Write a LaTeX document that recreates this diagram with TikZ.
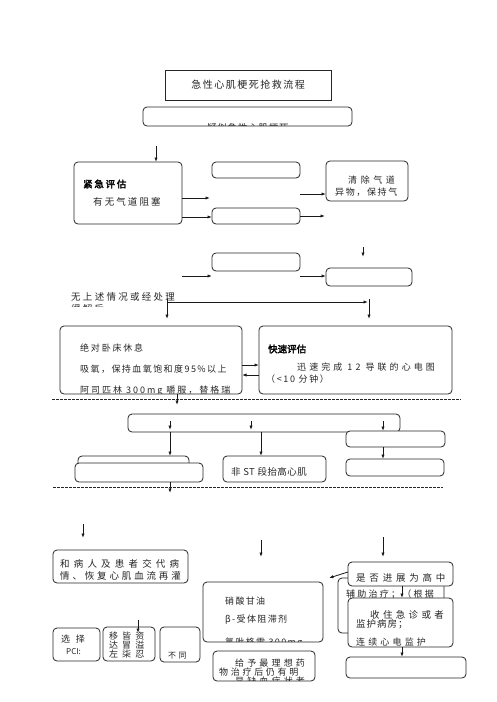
\documentclass[tikz,border=0pt]{standalone}
\usepackage{fontspec}
\newfontfamily\cjk{Noto Sans CJK SC}
\newfontfamily\cjkb[FakeBold=2.5]{Noto Sans CJK SC}
\usetikzlibrary{arrows.meta}
\newcommand{\lsp}[1]{\addfontfeature{LetterSpace=#1}}
\newcommand{\mybox}[6][]{\node[boxst,#1,anchor=north west,minimum width={(#5-#3)*1pt},minimum height={(#6-#4)*1pt}] (#2) at (#3,#4) {};}
\begin{document}
\begin{tikzpicture}[x=1pt,y=-1pt,
  boxst/.style={draw=black!85,line width=0.8pt,rounded corners=4pt,fill=white,inner sep=0pt,outer sep=0pt},
  tx/.style={font=\cjk\fontsize{9}{10}\selectfont,text=black!85,inner sep=0pt,anchor=west},
  tl/.style={font=\cjk\fontsize{9.5}{10}\selectfont,text=black!85,inner sep=0pt,anchor=west},
  bt/.style={font=\cjkb\fontsize{9.5}{10}\selectfont,text=black,inner sep=0pt,anchor=west},
  arr/.style={draw=black!90,line width=0.8pt,-{Latex[length=4.5pt,width=3.2pt]}},
  dsh/.style={draw=black!85,line width=0.8pt,dash pattern=on 2.5pt off 1.5pt}]
\useasboundingbox (0,0) rectangle (496,702);
\fill[white] (0,0) rectangle (496,702);

% --- title area
\mybox[rounded corners=0pt,line width=1pt]{title}{165}{70}{331}{100}
\node[tx,anchor=center,font=\cjk\fontsize{10}{11}\selectfont] (titlet) at (title.center) {\lsp{15}急性心肌梗死抢救流程};
\mybox{sub}{143}{107}{352}{126}
\begin{scope}
\clip (144,108) rectangle (351,125.3);
\node[tl,anchor=center] (subt) at (248,127.5) {\lsp{8}疑似急性心肌梗死};
\end{scope}

% --- emergency evaluation
\coordinate (c0) at (156,146);
\mybox{eval}{74}{162}{182}{224}
\draw[arr] (c0) -- (eval.north -| c0);
\node[bt] (evalt1) at (83,184) {\lsp{18}紧急评估};
\node[tl] (evalt2) at (93,202) {\lsp{22}有无气道阻塞};
\mybox{b1}{212}{162}{300}{178}
\mybox{b2}{212}{208}{300}{224}
\mybox{clear}{326}{161}{408}{201}
\node[tx] (cleart1) at (348,180) {\lsp{40}清除气道};
\node[tx] (cleart2) at (335,192) {\lsp{18}异物，保持气};
\coordinate (c1) at (210,198);
\draw[arr] (eval.east |- c1) -- (c1);
\draw[arr] (eval.east |- 0,217) -- (b2.west |- 0,217);
\coordinate (c2) at (300,194);
\draw[arr] (c2) -- (clear.west |- c2);
\coordinate (c3) at (325,216);
\draw[arr] (b2.east |- c3) -- (c3);

\coordinate (c4) at (363,247);
\coordinate (c5) at (363,257);
\draw[arr] (c4) -- (c5);
\mybox{b3}{212}{253}{300}{271}
\mybox{b4}{326}{268}{412}{286}
\coordinate (c6) at (182,276);
\coordinate (c7) at (212,276);
\draw[arr] (c6) -- (c7);
\draw[arr] (c7 -| b3.east) -- (c7 -| b4.west);

% --- no airway obstruction
\node[tl] (nost) at (71,297) {\lsp{24}无上述情况或经处理};
\begin{scope}
\clip (60,301.5) rectangle (120,306.5);
\node[tl] (nost2) at (71,309) {\lsp{22}缓解后};
\end{scope}
\coordinate (d1) at (167,299);
\coordinate (d2) at (369,299);
\draw[arr] (d1 |- 0,302) -- (368,302);
\draw[arr] (d1) -- (167,319);
\draw[arr] (d2) -- (369,319);

\mybox{rest}{60}{326}{242}{394}
\node[tx] (restt1) at (80,348) {\lsp{20}绝对卧床休息};
\node[tx] (restt2) at (80,369) {\lsp{16}吸氧，保持血氧饱和度95\%以上};
\begin{scope}
\clip (61,380) rectangle (241,393.2);
\node[tx] (restt3) at (80,391) {\lsp{22}阿司匹林 300mg 嚼服，替格瑞};
\end{scope}
\mybox{fast}{259}{326}{452}{394}
\node[bt] (fastt1) at (268,349) {快速评估};
\node[tx] (fastt2) at (297,367) {\lsp{34}迅速完成 12 导联的心电图};
\node[tx] (fastt3) at (266,379) {\lsp{18}（<10 分钟）};
\draw[arr] (rest.east |- 0,365) -- (fast.west |- 0,365);
\draw[arr] (fast.west |- 0,375) -- (rest.east |- 0,375);

\draw[dsh] (52,399) -- (461,399);
\draw[arr] (rest.south -| 177,0) -- (177,405);

% --- ECG classification
\mybox{wide}{128}{414}{400}{432}
\mybox{r1}{346}{431}{445}{447}
\draw[arr] (170,421) -- (170,430);
\draw[arr] (251,421) -- (251,430);
\draw[arr] (383,421) -- (r1.north -| 383,0);
\mybox{lb}{78}{456}{189}{470}
\mybox{lf}{75}{463}{203}{482}
\mybox{nst}{223}{456}{326}{482}
\node[tl] (nstt) at (231,472) {\lsp{5}非 ST 段抬高心肌};
\mybox{r2}{346}{459}{444}{476}
\draw[arr] (wide.south -| 170,0) -- (lb.north -| 170,0);
\draw[arr] (wide.south -| 261,0) -- (nst.north -| 261,0);
\draw[arr] (r1.south -| 383,0) -- (r2.north -| 383,0);

\draw[dsh] (53,487) -- (443,487);
\draw[arr] (lf.south -| 170,0) -- (170,493);

% --- treatment
\coordinate (e1) at (83,524);
\coordinate (e2) at (83,538);
\draw[arr] (e1) -- (e2);
\mybox{talk}{53}{550}{188}{583}
\node[tl] (talkt1) at (60,564) {\lsp{44}和病人及患者交代病};
\node[tl] (talkt2) at (60,576) {\lsp{30}情、恢复心肌血流再灌};

\coordinate (e3) at (261,540);
\coordinate (e4) at (261,557);
\draw[arr] (e3) -- (e4);
\coordinate (e5) at (383,537);
\coordinate (e6) at (383,557);
\draw[arr] (e5) -- (e6);

\mybox{aux}{338}{578}{444}{633}
\node[tx] (auxt) at (346,594) {\lsp{25}辅助治疗；（根据};
\mybox{prog}{348}{562}{453}{586}
\node[tl] (progt) at (356,578) {\lsp{40}是否进展为高中};
\coordinate (e7) at (329,578);
\draw[arr] (prog.west |- 0,572) -- (e7);

\mybox{nitro}{203}{582}{323}{642}
\node[tx] (nitrot1) at (225,601) {\lsp{15}硝酸甘油};
\node[tx] (nitrot2) at (225,620) {\lsp{15}β-受体阻滞剂};
\begin{scope}
\clip (204,630) rectangle (322,641);
\node[tx] (nitrot3) at (225,642.5) {\lsp{15}氯吡格雷 300mg};
\end{scope}

\mybox{icu}{348}{598}{453}{647}
\node[tl] (icut1) at (370,615) {\lsp{35}收住急诊或者};
\node[tl] (icut2) at (356,624) {\lsp{10}监护病房；};
\begin{scope}
\clip (349,630) rectangle (452,646);
\node[tx] (icut3) at (356,642) {\lsp{35}连续心电监护};
\end{scope}
\draw[arr] (prog.south -| 402,0) -- (icu.north -| 402,0);
\mybox{b5}{346}{657}{466}{678}
\draw[arr] (icu.south -| 402,0) -- (b5.north -| 402,0);

\mybox{drug}{213}{651}{315}{681}
\begin{scope}
\clip (214,652) rectangle (314,680);
\node[tx] (drugt1) at (235,663) {\lsp{35}给予最理想药};
\node[tx] (drugt2) at (219,672) {\lsp{30}物治疗后仍有明};
\node[tx] (drugt3) at (235,681) {\lsp{35}显缺血症状者};
\end{scope}

\mybox{pci}{53}{628}{100}{661}
\node[tx] (pcit1) at (61,639.5) {\lsp{40}选 择};
\node[tx,font=\cjk\fontsize{8}{9}\selectfont] (pcit2) at (66,651.5) {PCI:};
\mybox{p2}{103}{627}{155}{661}
\node[tx] (p2t1) at (109,636) {\lsp{45}移皆资};
\node[tx] (p2t2) at (109,645) {\lsp{45}达冒溢};
\node[tx] (p2t3) at (109,654) {\lsp{45}左柒忍};
\coordinate (f1) at (138,620);
\draw[arr] (f1) -- (138,633);
\mybox{p3}{160}{627}{200}{662}
\node[tx,font=\cjk\fontsize{8}{9}\selectfont] (p3t) at (168,656) {\lsp{30}不同};
\end{tikzpicture}
\end{document}
